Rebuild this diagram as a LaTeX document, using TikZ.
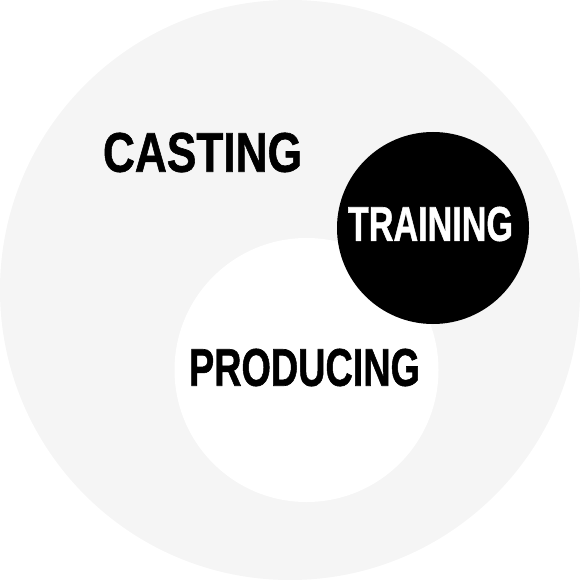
\documentclass[tikz,border=0pt]{standalone}
\usepackage{fontspec}
\setmainfont{Liberation Sans}
\newfontfamily\heavyfont[FakeBold=1.2]{Liberation Sans Bold}
\definecolor{bggray}{HTML}{F5F5F5}
\tikzset{
  disc/.style={circle, inner sep=0pt, minimum size=#1},
  lbl/.style={inner sep=0pt, font=\heavyfont}
}
\begin{document}
\begin{tikzpicture}[x=1pt,y=-1pt]
\useasboundingbox (0,0) rectangle (580,580);
\node[disc=580pt, fill=bggray] (outer) at (290,290) {};
\node[disc=264pt, fill=white] (inner) at (306.5,370) {};
\node[disc=192pt, fill=black] (train) at (433,228) {};
\node[lbl] (casting) at (202.5,152.5) {\resizebox{199pt}{39pt}{CASTING}};
\node[lbl, text=white] (training) at (430.5,224) {\resizebox{165pt}{34pt}{TRAINING}};
\node[lbl] (producing) at (304.5,367.5) {\resizebox{231pt}{37pt}{PRODUCING}};
\end{tikzpicture}
\end{document}
